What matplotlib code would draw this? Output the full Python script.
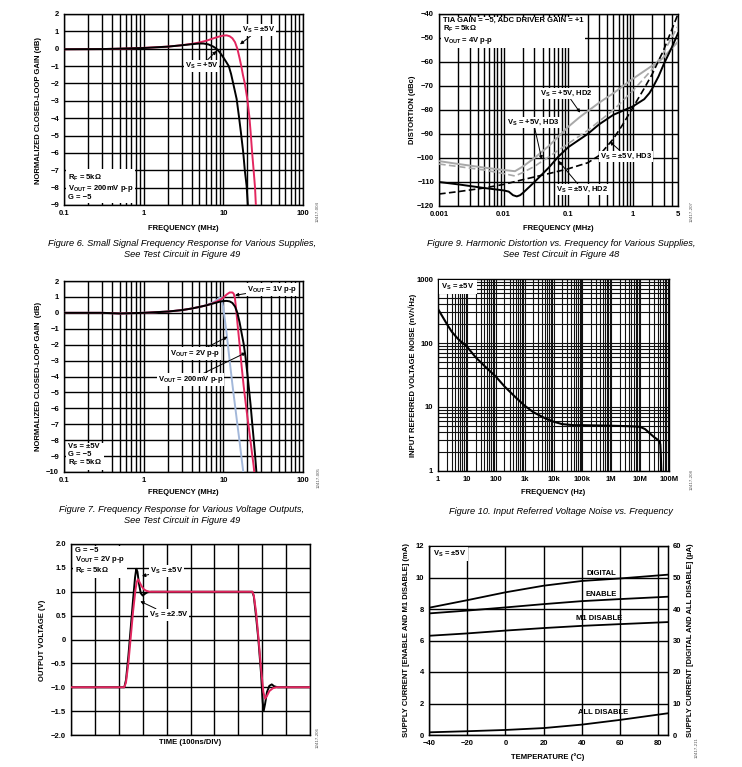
import numpy as np
import matplotlib.pyplot as plt
from matplotlib.ticker import FixedLocator, FixedFormatter, NullFormatter, LogLocator

W, H = 742, 767
RED = '#e3265f'
BLUE = '#a3b8da'
GRAY = '#a8a8a8'

plt.rcParams['font.family'] = ['Liberation Sans', 'DejaVu Sans']
plt.rcParams['font.weight'] = 'bold'
plt.rcParams['font.size'] = 5.5
plt.rcParams['mathtext.fontset'] = 'custom'
plt.rcParams['mathtext.bf'] = 'Liberation Sans:bold'
plt.rcParams['mathtext.rm'] = 'Liberation Sans:bold'
plt.rcParams['mathtext.default'] = 'bf'

# ---- Figure 6: small signal response vs supply
f6_freq_pm5 = [0.1, 0.3, 0.5, 1, 2, 3, 4, 5, 6, 7, 8, 9, 10, 11, 12, 13, 14, 15,
               16, 16.8, 17.6, 18.6, 20, 21.2, 22, 23, 24, 25, 25.6, 26.5]
f6_gain_pm5 = [-0.03, -0.02, 0.0, 0.05, 0.12, 0.2, 0.28, 0.36, 0.45, 0.55, 0.64, 0.71,
               0.76, 0.77, 0.72, 0.6, 0.38, 0.0, -0.55, -1.0, -1.5, -2.0, -2.9, -3.9,
               -4.8, -6.0, -7.0, -8.0, -9.0, -10]
f6_freq_p5 = [0.1, 0.3, 1, 2, 3, 4, 5, 5.6, 6.5, 7.5, 8.2, 9, 10, 11, 11.7, 12.5,
              13.3, 14.7, 15.7, 16.6, 17.8, 18.6, 19.6, 20.3, 21]
f6_gain_p5 = [-0.03, -0.02, 0.04, 0.12, 0.2, 0.26, 0.3, 0.3, 0.25, 0.12, 0.0, -0.2,
              -0.5, -0.8, -1.0, -1.45, -2.0, -2.9, -3.9, -4.8, -6.0, -7.0, -7.9, -9.0, -10]

# ---- Figure 7: response vs output level
f7_freq_200m = [0.1, 0.3, 0.5, 1, 2, 3, 4, 5, 6, 7, 8, 9, 10, 11, 12, 13, 14, 15, 16,
                17, 18, 19, 20, 21, 22, 23, 24, 25, 26, 27]
f7_gain_200m = [0.0, 0.0, -0.04, 0.0, 0.08, 0.17, 0.27, 0.37, 0.46, 0.55, 0.63, 0.7,
                0.74, 0.75, 0.72, 0.62, 0.4, 0.0, -0.6, -1.3, -1.95, -2.8, -3.8, -4.8,
                -5.8, -6.9, -7.9, -8.9, -10, -11]
f7_freq_1v = [0.1, 0.3, 0.5, 1, 2, 3, 4, 5, 6, 7, 8, 9, 10, 11, 12, 13, 13.5, 14, 14.5,
              15, 16, 17, 18, 19, 20, 21, 22, 23, 24, 25]
f7_gain_1v = [0.0, 0.0, -0.04, 0.0, 0.08, 0.17, 0.27, 0.37, 0.46, 0.56, 0.68, 0.8, 0.95,
              1.15, 1.28, 1.28, 1.2, 0.9, 0.2, -0.6, -2.0, -3.4, -4.6, -5.6, -6.5, -7.3,
              -8.1, -8.9, -9.6, -10.5]
f7_freq_2v = [0.1, 0.3, 0.5, 1, 2, 3, 4, 5, 6, 7, 8, 9, 9.5, 10, 11, 12, 13, 14, 15,
              16, 17, 17.8, 18.5]
f7_gain_2v = [0.0, 0.0, -0.04, 0.0, 0.08, 0.17, 0.27, 0.37, 0.47, 0.6, 0.75, 0.95, 0.92,
              0.3, -1.3, -3.0, -4.5, -5.8, -7.0, -8.1, -9.2, -10, -10.8]

# ---- Figure 9: harmonic distortion
f9_freq_p5_hd2 = [0.001, 0.002, 0.005, 0.01, 0.015, 0.02, 0.03, 0.05, 0.1, 0.15, 0.3,
                  0.5, 1, 2, 2.5, 3, 5]
f9_dist_p5_hd2 = [-101.3, -102.5, -104, -105, -105.5, -103.5, -100, -95, -87, -83, -77,
                  -73, -67, -61.5, -60, -58, -51.5]
f9_freq_p5_hd3 = [0.001, 0.005, 0.01, 0.015, 0.02, 0.03, 0.05, 0.1, 0.2, 0.5, 1, 2, 3, 5]
f9_dist_p5_hd3 = [-102.5, -105, -106.5, -107.5, -106, -103.5, -99.5, -94, -88.5, -80,
                  -72, -63, -56, -45]
f9_freq_pm5_hd3 = [0.001, 0.002, 0.005, 0.01, 0.02, 0.05, 0.1, 0.2, 0.3, 0.5, 0.7, 1,
                   1.5, 2, 3, 5]
f9_dist_pm5_hd3 = [-115, -114, -112.5, -111, -109, -106.5, -104.5, -102, -99, -92, -86,
                   -79, -71, -65, -55, -40]
f9_freq_pm5_hd2 = [0.001, 0.002, 0.005, 0.01, 0.012, 0.014, 0.016, 0.018, 0.02, 0.03,
                   0.05, 0.07, 0.1, 0.2, 0.3, 0.5, 1, 1.5, 1.8, 2, 2.5, 3, 4, 5]
f9_dist_pm5_hd2 = [-110, -111, -112.5, -113.5, -114, -115.5, -116, -115.5, -114.5, -110,
                   -104, -99.5, -95.5, -90, -86, -82, -78.5, -75.5, -73, -71, -66, -61,
                   -54, -48]

# ---- Figure 10: input voltage noise
f10_freq = [1, 2, 3, 5, 10, 20, 50, 100, 200, 500, 1e3, 2e3, 5e3, 1e4, 2e4, 5e4, 1e5,
            1e6, 5e6, 1e7, 1.5e7, 2e7, 3e7, 4e7, 4.7e7, 5e7, 5.2e7, 5.4e7, 5.5e7]
f10_noise = [340, 200, 150, 115, 88, 60, 40, 30, 21, 14, 10.5, 8.3, 6.7, 5.9, 5.4, 5.2,
             5.2, 5.1, 5.0, 4.9, 4.5, 4.0, 3.4, 3.1, 2.9, 2.6, 1.8, 1.05, 0.9]

# ---- Figure 8: large signal pulse (time in divisions)
f8_t_pm5 = [0, 2.23, 2.3, 2.4, 2.5, 2.6, 2.68, 2.73, 2.78, 2.85, 2.92, 3.0, 3.1, 3.2,
            3.35, 7.59, 7.65, 7.75, 7.84, 7.95, 8.02, 8.06, 8.12, 8.2, 8.3, 8.4, 8.5,
            8.65, 10]
f8_v_pm5 = [-1, -1, -0.85, -0.35, 0.25, 0.85, 1.3, 1.48, 1.42, 1.15, 0.97, 0.92, 0.96,
            0.99, 1.0, 1.0, 0.9, 0.45, 0.0, -0.7, -1.3, -1.5, -1.35, -1.1, -0.97, -0.94,
            -0.98, -1.0, -1]
f8_t_pm25 = [0, 2.23, 2.3, 2.4, 2.5, 2.6, 2.7, 2.75, 2.8, 2.85, 2.95, 3.05, 3.15, 3.3,
             7.59, 7.65, 7.75, 7.85, 7.95, 8.05, 8.12, 8.2, 8.3, 8.45, 8.6, 10]
f8_v_pm25 = [-1, -1, -0.9, -0.5, 0.05, 0.6, 1.05, 1.2, 1.26, 1.22, 1.12, 1.05, 1.02, 1.0,
             1.0, 0.92, 0.55, 0.0, -0.6, -1.1, -1.24, -1.18, -1.08, -1.02, -1.0, -1]
f8_yticks = [-2.0, -1.5, -1.0, -0.5, 0, 0.5, 1.0, 1.5, 2.0]
f8_ylabels = ['\u22122.0', '\u22121.5', '\u22121.0', '\u22120.5', '0', '0.5', '1.0', '1.5', '2.0']

# ---- Figure 11: supply current vs temperature
f11_temp = [-40, -20, 0, 20, 40, 60, 85]
f11_digital_ua = [40.4, 42.8, 45.3, 47.4, 48.9, 49.7, 50.9]
f11_enable_ma = [7.72, 7.9, 8.1, 8.31, 8.5, 8.63, 8.78]
f11_m1dis_ma = [6.3, 6.45, 6.63, 6.79, 6.93, 7.04, 7.17]
f11_alldis_ua = [0.85, 1.2, 1.6, 2.2, 3.3, 4.8, 6.9]

fig = plt.figure(figsize=(W / 100, H / 100), dpi=100)


def panel(l, t, r, b):
    ax = fig.add_axes([l / W, 1 - b / H, (r - l) / W, (b - t) / H])
    ax.tick_params(which='both', length=0, pad=3.5, labelsize=5.5)
    for s in ax.spines.values():
        s.set_linewidth(1.0)
    return ax


def ftext(x, y, s, **kw):
    return fig.text(x / W, 1 - y / H, s, **kw)


def logx(ax, ticks, labels):
    ax.set_xscale('log')
    ax.xaxis.set_major_locator(FixedLocator(ticks))
    ax.xaxis.set_major_formatter(FixedFormatter(labels))
    ax.xaxis.set_minor_locator(LogLocator(base=10, subs=range(2, 10), numticks=30))
    ax.xaxis.set_minor_formatter(NullFormatter())


def note(ax, s, xy, xytext, **kw):
    ax.annotate(s, xy=xy, xytext=xytext, fontsize=5.5, va='center', zorder=6,
                bbox=dict(fc='white', ec='none', pad=0.6),
                arrowprops=dict(arrowstyle='-|>', color='k', lw=0.7, mutation_scale=5,
                                shrinkA=0, shrinkB=0), **kw)


box = dict(fc='white', ec='none', pad=1.5)
cap_font = dict(family=['Liberation Sans Narrow', 'Liberation Sans'], style='italic',
                weight='normal', fontsize=6.7, ha='center', va='center', linespacing=1.2)

# Figure 6
ax = panel(64, 14, 303, 205)
ax.plot(f6_freq_pm5, f6_gain_pm5, color=RED, lw=1.4, zorder=3)
ax.plot(f6_freq_p5, f6_gain_p5, color='k', lw=1.4, zorder=3)
logx(ax, [0.1, 1, 10, 100], ['0.1', '1', '10', '100'])
ax.set_xlim(0.1, 100)
ax.set_ylim(-9, 2)
ax.set_yticks(range(-9, 3))
ax.grid(which='both', color='k', lw=1.0)
ax.text(0.015, 0.02, 'R$_F$ = 5k\u03a9\nV$_{OUT}$ = 200mV p-p\nG = \u22125',
        transform=ax.transAxes, va='bottom', ha='left', bbox=box, zorder=5, linespacing=1.05)
note(ax, 'V$_S$ = \u00b15V', (16.2, 0.25), (17, 1.08), ha='left')
note(ax, 'V$_S$ = +5V', (8.2, -0.13), (3.3, -0.98), ha='left')
ftext(183, 228, 'FREQUENCY (MHz)', ha='center', va='center')
ftext(39, 110, 'NORMALIZED CLOSED-LOOP GAIN (dB)', rotation=90, ha='center', va='center')
ftext(182, 249, 'Figure 6. Small Signal Frequency Response for Various Supplies,\n'
      'See Test Circuit in Figure 49', **cap_font)
ftext(318, 212, '12417-004', rotation=90, fontsize=3.2, weight='normal', ha='center',
      va='center', color='#555555')

# Figure 9
ax = panel(439, 14, 678, 206)
ax.plot(f9_freq_p5_hd2, f9_dist_p5_hd2, color=GRAY, lw=1.4, zorder=3)
ax.plot(f9_freq_p5_hd3, f9_dist_p5_hd3, color=GRAY, lw=1.2, ls=(0, (4, 2)), zorder=3)
ax.plot(f9_freq_pm5_hd3, f9_dist_pm5_hd3, color='k', lw=1.2, ls=(0, (4, 2)), zorder=3)
ax.plot(f9_freq_pm5_hd2, f9_dist_pm5_hd2, color='k', lw=1.4, zorder=3)
logx(ax, [0.001, 0.01, 0.1, 1, 5], ['0.001', '0.01', '0.1', '1', '5'])
ax.set_xlim(0.001, 5)
ax.set_ylim(-120, -40)
ax.set_yticks(range(-120, -39, 10))
ax.grid(which='both', color='k', lw=1.0)
ax.text(0.015, 0.985, 'TIA GAIN = \u22125, ADC DRIVER GAIN = +1\nR$_F$ = 5k\u03a9\nV$_{OUT}$ = 4V p-p',
        transform=ax.transAxes, va='top', ha='left', bbox=box, zorder=5, linespacing=1.05)
note(ax, 'V$_S$ = +5V, HD2', (0.153, -81.1), (0.094, -73), ha='center')
note(ax, 'V$_S$ = +5V, HD3', (0.039, -100.6), (0.029, -85.3), ha='center')
note(ax, 'V$_S$ = \u00b15V, HD3', (0.44, -93.2), (0.79, -99.2), ha='center')
note(ax, 'V$_S$ = \u00b15V, HD2', (0.0705, -101.2), (0.167, -113.2), ha='center')
ftext(558, 228, 'FREQUENCY (MHz)', ha='center', va='center')
ftext(413, 110, 'DISTORTION (dBc)', rotation=90, ha='center', va='center')
ftext(561, 249, 'Figure 9. Harmonic Distortion vs. Frequency for Various Supplies,\n'
      'See Test Circuit in Figure 48', **cap_font)
ftext(692, 212, '12417-207', rotation=90, fontsize=3.2, weight='normal', ha='center',
      va='center', color='#555555')

# Figure 7
ax = panel(64, 281, 303, 472)
ax.plot(f7_freq_2v, f7_gain_2v, color=BLUE, lw=1.4, zorder=3)
ax.plot(f7_freq_1v, f7_gain_1v, color=RED, lw=1.4, zorder=3)
ax.plot(f7_freq_200m, f7_gain_200m, color='k', lw=1.4, zorder=3)
logx(ax, [0.1, 1, 10, 100], ['0.1', '1', '10', '100'])
ax.set_xlim(0.1, 100)
ax.set_ylim(-10, 2)
ax.set_yticks(range(-10, 3))
ax.grid(which='both', color='k', lw=1.0)
ax.text(0.015, 0.02, 'Vs = \u00b15V\nG = \u22125\nR$_F$ = 5k\u03a9',
        transform=ax.transAxes, va='bottom', ha='left', bbox=box, zorder=5, linespacing=1.05)
note(ax, 'V$_{OUT}$ = 1V p-p', (14, 1.1), (19.6, 1.48), ha='left')
note(ax, 'V$_{OUT}$ = 2V p-p', (11.3, -1.5), (4.4, -2.56), ha='center')
note(ax, 'V$_{OUT}$ = 200mV p-p', (19.2, -2.5), (3.9, -4.19), ha='center')
ftext(183, 493, 'FREQUENCY (MHz)', ha='center', va='center')
ftext(39, 376, 'NORMALIZED CLOSED-LOOP GAIN  (dB)', rotation=90, ha='center', va='center')
ftext(182, 515, 'Figure 7. Frequency Response for Various Voltage Outputs,\n'
      'See Test Circuit in Figure 49', **cap_font)
ftext(319, 478, '12417-005', rotation=90, fontsize=3.2, weight='normal', ha='center',
      va='center', color='#555555')

# Figure 10
ax = panel(438, 279, 669, 471)
ax.plot(f10_freq, f10_noise, color='k', lw=1.5, zorder=3)
logx(ax, [1, 10, 100, 1e3, 1e4, 1e5, 1e6, 1e7, 1e8],
     ['1', '10', '100', '1k', '10k', '100k', '1M', '10M', '100M'])
ax.set_yscale('log')
ax.yaxis.set_major_locator(FixedLocator([1, 10, 100, 1000]))
ax.yaxis.set_major_formatter(FixedFormatter(['1', '10', '100', '1000']))
ax.yaxis.set_minor_locator(LogLocator(base=10, subs=range(2, 10), numticks=30))
ax.yaxis.set_minor_formatter(NullFormatter())
ax.set_xlim(1, 1e8)
ax.set_ylim(1, 1000)
ax.grid(which='both', color='#111111', lw=0.8)
ax.text(0.015, 0.985, 'V$_S$ = \u00b15V', transform=ax.transAxes, va='top', ha='left',
        bbox=box, zorder=5)
ftext(553, 493, 'FREQUENCY (Hz)', ha='center', va='center')
ftext(413, 375, 'INPUT REFERRED VOLTAGE NOISE (nV/\u221aHz)', rotation=90, ha='center',
      va='center')
ftext(561, 511, 'Figure 10. Input Referred Voltage Noise vs. Frequency', **cap_font)
ftext(692, 480, '12417-208', rotation=90, fontsize=3.2, weight='normal', ha='center',
      va='center', color='#555555')

# Figure 8 (pulse)
ax = panel(71, 544, 310, 735)
ax.plot(f8_t_pm5, f8_v_pm5, color='k', lw=1.4, zorder=3)
ax.plot(f8_t_pm25, f8_v_pm25, color=RED, lw=1.4, zorder=3)
ax.set_xlim(0, 10)
ax.set_ylim(-2, 2)
ax.set_xticks(range(0, 11))
ax.set_xticklabels([])
ax.set_yticks(f8_yticks)
ax.set_yticklabels(f8_ylabels)
ax.grid(color='k', lw=1.0)
ax.text(0.015, 0.985, 'G = \u22125\nV$_{OUT}$ = 2V p-p\nR$_F$ = 5k\u03a9', transform=ax.transAxes,
        va='top', ha='left', bbox=box, zorder=5, linespacing=1.05)
note(ax, 'V$_S$ = \u00b15V', (2.97, 1.33), (3.31, 1.44), ha='left')
note(ax, 'V$_S$ = \u00b12.5V', (2.9, 0.8), (3.25, 0.52), ha='left')
ftext(190, 743, 'TIME (100ns/DIV)', ha='center', va='center')
ftext(43, 640, 'OUTPUT VOLTAGE (V)', rotation=90, ha='center', va='center')
ftext(318, 738, '12417-206', rotation=90, fontsize=3.2, weight='normal', ha='center',
      va='center', color='#555555')

# Figure 11
ax = panel(429, 546, 668, 735)
ax.plot(f11_temp, f11_enable_ma, color='k', lw=1.3, zorder=3)
ax.plot(f11_temp, f11_m1dis_ma, color='k', lw=1.3, zorder=3)
ax.set_xlim(-40, 85)
ax.set_ylim(0, 12)
ax.set_xticks(range(-40, 81, 20))
ax.set_xticklabels(['\u221240', '\u221220', '0', '20', '40', '60', '80'])
ax.set_yticks(range(0, 13, 2))
ax.grid(color='k', lw=1.0)
axr = ax.twinx()
axr.plot(f11_temp, f11_digital_ua, color='k', lw=1.3, zorder=3)
axr.plot(f11_temp, f11_alldis_ua, color='k', lw=1.3, zorder=3)
axr.set_ylim(0, 60)
axr.set_yticks(range(0, 61, 10))
axr.tick_params(length=0, pad=3.5, labelsize=5.5)
ax.text(0.015, 0.985, 'V$_S$ = \u00b15V', transform=ax.transAxes, va='top', ha='left',
        bbox=box, zorder=5)
for lbl, x, y in [('DIGITAL', 50, 10.25), ('ENABLE', 50, 8.94),
                  ('M1 DISABLE', 49, 7.39), ('ALL DISABLE', 51, 1.4)]:
    ax.text(x, y, lbl, ha='center', va='center', zorder=5)
ftext(548, 757, 'TEMPERATURE (\u00b0C)', ha='center', va='center')
ftext(407, 640, 'SUPPLY CURRENT [ENABLE AND M1 DISABLE] (mA)', rotation=90, ha='center',
      va='center')
ftext(690, 640, 'SUPPLY CURRENT [DIGITAL AND ALL DISABLE] (\u00b5A)', rotation=90,
      ha='center', va='center')
ftext(697, 748, '12417-211', rotation=90, fontsize=3.2, weight='normal', ha='center',
      va='center', color='#555555')

fig.savefig('out.png', dpi=100)
